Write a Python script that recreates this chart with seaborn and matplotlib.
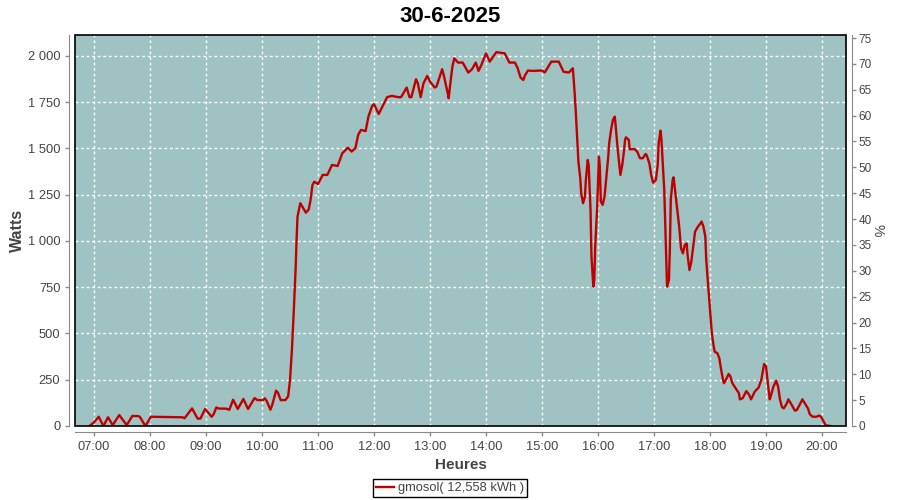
import matplotlib
matplotlib.use("Agg")
import matplotlib.pyplot as plt
import matplotlib.dates as mdates
from matplotlib.ticker import FuncFormatter, MultipleLocator
from matplotlib.patches import Rectangle
import seaborn as sns
import pandas as pd

# data (time of day, watts)
times = [
    "06:55", "07:00", "07:05", "07:10", "07:15", "07:20", "07:27", "07:35", "07:41", "07:47",
    "07:49", "07:55", "08:01", "08:35", "08:37", "08:45", "08:51", "08:54", "08:59", "09:06",
    "09:08", "09:11", "09:14", "09:21", "09:25", "09:29", "09:34", "09:40", "09:42", "09:45",
    "09:52", "09:55", "10:01", "10:03", "10:05", "10:09", "10:11", "10:15", "10:17", "10:20",
    "10:25", "10:28", "10:30", "10:32", "10:34", "10:36", "10:37", "10:38", "10:41", "10:47",
    "10:50", "10:52", "10:54", "10:56", "11:00", "11:05", "11:10", "11:15", "11:21", "11:26",
    "11:32", "11:36", "11:40", "11:43", "11:46", "11:51", "11:54", "11:58", "12:00", "12:05",
    "12:09", "12:14", "12:19", "12:26", "12:29", "12:35", "12:38", "12:40", "12:45", "12:47",
    "12:50", "12:53", "12:57", "13:00", "13:05", "13:07", "13:13", "13:15", "13:19", "13:20",
    "13:22", "13:24", "13:26", "13:30", "13:35", "13:41", "13:45", "13:49", "13:52", "13:55",
    "14:00", "14:04", "14:11", "14:20", "14:25", "14:31", "14:34", "14:37", "14:40", "14:42",
    "14:45", "14:50", "15:00", "15:03", "15:10", "15:18", "15:23", "15:27", "15:29", "15:33",
    "15:34", "15:35", "15:36", "15:37", "15:38", "15:39", "15:41", "15:42", "15:44", "15:46",
    "15:47", "15:49", "15:50", "15:52", "15:53", "15:55", "15:56", "15:57", "15:59", "16:00",
    "16:01", "16:02", "16:03", "16:05", "16:07", "16:09", "16:11", "16:12", "16:14", "16:16",
    "16:18", "16:19", "16:21", "16:23", "16:24", "16:26", "16:28", "16:29", "16:30", "16:33",
    "16:34", "16:39", "16:42", "16:45", "16:48", "16:51", "16:52", "16:55", "16:57", "16:59",
    "17:02", "17:04", "17:05", "17:07", "17:08", "17:09", "17:11", "17:12", "17:13", "17:14",
    "17:16", "17:17", "17:18", "17:20", "17:21", "17:23", "17:25", "17:27", "17:29", "17:31",
    "17:33", "17:35", "17:36", "17:38", "17:40", "17:42", "17:44", "17:47", "17:50", "17:51",
    "17:53", "17:55", "17:56", "17:58", "18:00", "18:02", "18:04", "18:05", "18:08", "18:10",
    "18:12", "18:14", "18:15", "18:17", "18:20", "18:22", "18:24", "18:28", "18:31", "18:32",
    "18:35", "18:39", "18:42", "18:44", "18:48", "18:52", "18:55", "18:58", "19:00", "19:02",
    "19:04", "19:05", "19:08", "19:11", "19:13", "19:15", "19:17", "19:19", "19:22", "19:24",
    "19:27", "19:31", "19:33", "19:36", "19:39", "19:42", "19:45", "19:47", "19:50", "19:54",
    "19:57", "19:59", "20:02", "20:04", "20:09",
]
watts = [
    0, 20, 50, 0, 47, 5, 59, 5, 54, 54,
    50, 0, 50, 47, 42, 95, 40, 40, 92, 50,
    62, 100, 94, 94, 88, 142, 92, 146, 124, 92,
    151, 140, 140, 150, 135, 88, 115, 191, 180, 140,
    140, 160, 250, 410, 620, 850, 1005, 1131, 1204, 1153,
    1170, 1221, 1302, 1320, 1308, 1357, 1357, 1411, 1405, 1474,
    1504, 1483, 1501, 1573, 1600, 1594, 1672, 1730, 1739, 1686,
    1726, 1777, 1784, 1777, 1777, 1829, 1777, 1777, 1874, 1850,
    1777, 1852, 1892, 1861, 1829, 1835, 1928, 1890, 1798, 1771,
    1861, 1942, 1987, 1964, 1964, 1910, 1928, 1964, 1919, 1951,
    2014, 1969, 2020, 2014, 1964, 1964, 1933, 1883, 1870, 1897,
    1921, 1919, 1921, 1911, 1969, 1969, 1915, 1911, 1911, 1933,
    1870, 1798, 1717, 1618, 1519, 1429, 1339, 1258, 1204, 1240,
    1330, 1438, 1411, 1167, 915, 753, 790, 969, 1167, 1312,
    1456, 1402, 1213, 1195, 1240, 1348, 1456, 1528, 1600, 1654,
    1672, 1618, 1501, 1402, 1357, 1411, 1492, 1546, 1560, 1546,
    1495, 1497, 1483, 1447, 1447, 1470, 1465, 1420, 1357, 1315,
    1330, 1411, 1528, 1596, 1546, 1456, 1276, 1096, 915, 753,
    789, 951, 1222, 1330, 1344, 1258, 1167, 1077, 960, 933,
    978, 987, 924, 843, 888, 969, 1050, 1077, 1096, 1105,
    1077, 1023, 897, 760, 630, 501, 429, 402, 393, 366,
    303, 249, 231, 249, 281, 267, 231, 200, 177, 144,
    150, 189, 168, 144, 186, 207, 249, 335, 324, 231,
    144, 159, 213, 245, 213, 144, 104, 95, 119, 144,
    119, 83, 86, 114, 144, 119, 95, 63, 50, 50,
    56, 50, 23, 4, 0,
]

day = "2025-06-30"
title = "30-6-2025"
series_label = "gmosol( 12,558 kWh )"

df = pd.DataFrame({"time": pd.to_datetime([day + " " + t for t in times]), "watts": watts})

plt.rcParams["font.family"] = ["Liberation Sans", "DejaVu Sans"]
text_col = "#444444"
axis_col = "#8a8a8a"

fig = plt.figure(figsize=(9, 5), dpi=100)
ax = fig.add_axes([75 / 900, 74 / 500, 771 / 900, 391 / 500])
ax.set_facecolor("#9fc3c3")

sns.lineplot(data=df, x="time", y="watts", ax=ax, color="#c00000", linewidth=1.7,
             label=series_label, zorder=3)

ax.set_xlim(pd.Timestamp(day + " 06:39:35"), pd.Timestamp(day + " 20:25:45"))
ax.set_ylim(0, 2113)
ax.yaxis.set_major_locator(MultipleLocator(250))
ax.yaxis.set_major_formatter(FuncFormatter(lambda v, p: f"{int(v):,}".replace(",", " ")))
ax.xaxis.set_major_locator(mdates.HourLocator())
ax.xaxis.set_major_formatter(mdates.DateFormatter("%H:%M"))

ax.grid(True, color="white", linestyle=(0, (2, 2)), linewidth=1)
ax.set_axisbelow(True)

for s in ["top", "right"]:
    ax.spines[s].set_visible(False)
for s in ["left", "bottom"]:
    ax.spines[s].set_position(("outward", 4))
    ax.spines[s].set_color(axis_col)
ax.tick_params(axis="both", colors=axis_col, labelcolor=text_col, labelsize=9.3,
               length=3, width=1)

ax.set_xlabel("Heures", fontsize=11, fontweight="bold", color=text_col, labelpad=4)
ax.set_ylabel("Watts", fontsize=11.5, fontweight="bold", color=text_col, labelpad=2)

# right axis in percent
ax2 = ax.twinx()
ax2.set_ylim(0, 75.58)
ax2.yaxis.set_major_locator(MultipleLocator(5))
for s in ["top", "left", "bottom"]:
    ax2.spines[s].set_visible(False)
ax2.spines["right"].set_position(("outward", 4))
ax2.spines["right"].set_color(axis_col)
ax2.tick_params(axis="y", colors=axis_col, labelcolor=text_col, labelsize=8.5,
                length=3, width=1, pad=2)
ax2.set_ylabel("%", fontsize=10, color=text_col, rotation=270, labelpad=9)

# black plot border
ax.add_patch(Rectangle((0, 0), 1, 1, transform=ax.transAxes, fill=False,
                       edgecolor="black", linewidth=1.2, zorder=5, clip_on=False))

fig.suptitle(title, x=0.5, y=0.988, fontsize=16, fontweight="bold", color="black")

handles, labels = ax.get_legend_handles_labels()
ax.get_legend().remove()
leg = fig.legend(handles, labels, loc="center", bbox_to_anchor=(0.5, 0.024),
                 frameon=True, fancybox=False, framealpha=1, edgecolor="black",
                 fontsize=9.3, handlelength=1.4, handletextpad=0.3,
                 borderpad=0.25, borderaxespad=0)
leg.get_frame().set_linewidth(1)
for t in leg.get_texts():
    t.set_color(text_col)

fig.savefig("out.png", dpi=100)
